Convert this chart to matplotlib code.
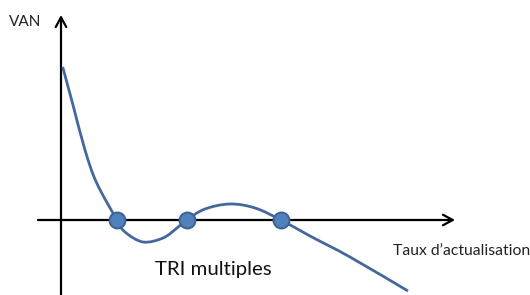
import numpy as np
import matplotlib
matplotlib.use("Agg")
import matplotlib.pyplot as plt
from matplotlib.path import Path
from matplotlib.patches import PathPatch

# Curve (rate, NPV) in arbitrary units
rate = [1.7, 12, 24, 35.7, 56, 64, 82, 102, 116, 125.5, 144, 169, 194, 220, 249, 289, 347]
npv = [153, 115, 70, 37, 0, -12, -22, -18, -8, 0, 11, 16, 12, 0, -16, -37, -71]
# multiple IRR points
irr = [56, 125.5, 220]
irr_val = [0, 0, 0]

labels = {"y": "VAN", "x": "Taux d\u2019actualisation", "irr": "TRI multiples"}

fig = plt.figure(figsize=(5.30, 2.95), dpi=100)
ax = fig.add_axes([0, 0, 1, 1])
ax.set_xlim(-61, 469)
ax.set_ylim(-75, 220)
ax.axis("off")

# axes arrows
arrow = dict(arrowstyle="->,head_length=0.7,head_width=0.38", color="black",
             lw=1.6, mutation_scale=10, shrinkA=0, shrinkB=0)
ax.annotate("", xy=(394, 0), xytext=(-23, 0), arrowprops=arrow)
ax.annotate("", xy=(0, 205), xytext=(0, -75), arrowprops=arrow)

# smooth curve through the read points (Catmull-Rom -> Bezier)
pts = np.column_stack([rate, npv]).astype(float)
verts = [tuple(pts[0])]
codes = [Path.MOVETO]
n = len(pts)
for i in range(n - 1):
    p0 = pts[i - 1] if i > 0 else pts[i]
    p1 = pts[i]
    p2 = pts[i + 1]
    p3 = pts[i + 2] if i + 2 < n else pts[i + 1]
    c1 = p1 + (p2 - p0) / 6.0
    c2 = p2 - (p3 - p1) / 6.0
    verts += [tuple(c1), tuple(c2), tuple(p2)]
    codes += [Path.CURVE4] * 3
ax.add_patch(PathPatch(Path(verts, codes), fill=False, edgecolor="#43689E",
                       lw=2.0, capstyle="butt", zorder=3))

ax.plot(irr, irr_val, "o", ms=11.5, mfc="#4F81BD", mec="#3B6291", mew=1.4, zorder=4)

ax.text(-52, 198, labels["y"], fontsize=11, family="Lato", color="#222222",
        ha="left", va="center")
ax.text(332, -31, labels["x"], fontsize=11.3, family="Lato", color="#222222",
        ha="left", va="center")
ax.text(152, -49, labels["irr"], fontsize=14.7, family="Lato", color="#111111",
        ha="center", va="center")

fig.savefig("out.png", dpi=100)
